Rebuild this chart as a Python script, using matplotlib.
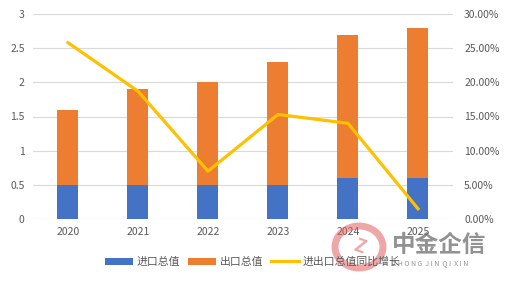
import numpy as np
import matplotlib.pyplot as plt
from matplotlib.patches import Ellipse

plt.rcParams['font.family'] = ['Noto Sans CJK SC', 'DejaVu Sans']

years = ['2020', '2021', '2022', '2023', '2024', '2025']
imports = [0.5, 0.5, 0.5, 0.5, 0.6, 0.6]
exports = [1.1, 1.4, 1.5, 1.8, 2.1, 2.2]
growth = [25.8, 18.7, 7.0, 15.3, 14.0, 1.5]

grey = '#595959'
fig = plt.figure(figsize=(5.06, 2.83), dpi=100)
ax = fig.add_axes([33/506, 64/283, 420/506, 205/283])
x = np.arange(len(years))
b1 = ax.bar(x, imports, width=0.3, color='#4472C4', label='进口总值', zorder=2)
b2 = ax.bar(x, exports, width=0.3, bottom=imports, color='#ED7D31', label='出口总值', zorder=2)
ax.set_ylim(0, 3)
ax.set_xlim(-0.5, 5.5)
ax.set_yticks(np.arange(0, 3.01, 0.5))
ax.set_yticklabels(['0', '0.5', '1', '1.5', '2', '2.5', '3'])
ax.set_xticks(x)
ax.set_xticklabels(years)
ax.grid(axis='y', color='#D9D9D9', linewidth=0.8, zorder=0)
ax.set_axisbelow(True)
for s in ax.spines.values():
    s.set_visible(False)
ax.tick_params(length=0, labelsize=7.5, colors=grey, pad=6)

ax2 = ax.twinx()
l1, = ax2.plot(x, growth, color='#FFC000', linewidth=2.3, label='进出口总值同比增长', zorder=3)
ax2.set_ylim(0, 30)
ax2.set_yticks(np.arange(0, 30.1, 5))
ax2.set_yticklabels(['%.2f%%' % v for v in np.arange(0, 30.1, 5)])
for s in ax2.spines.values():
    s.set_visible(False)
ax2.tick_params(length=0, labelsize=7.5, colors=grey, pad=8)

fig.legend(handles=[b1, b2, l1], loc='center', bbox_to_anchor=(0.5, (283-262)/283),
           ncol=3, frameon=False, fontsize=7.8, labelcolor=grey,
           handlelength=2.6, handleheight=0.7, columnspacing=0.7, handletextpad=0.35)

# 水印
fig.patches.append(Ellipse((359/506, 1-247/283), 48/506, 42/283, transform=fig.transFigure,
                           facecolor='none', edgecolor='#E06060', linewidth=5, alpha=0.55))
fig.text(359/506, 1-247/283, 'Z', fontsize=13, color='#E06060', alpha=0.55, weight='bold',
         ha='center', va='center', rotation=-20)
fig.text(392/506, 1-245/283, '中金企信', fontsize=17, color='#6E6E6E', alpha=0.75, weight='bold', va='center')
fig.text(392/506, 1-263/283, 'Z H O N G  J I N  Q I  X I N', fontsize=5, color='#6E6E6E', alpha=0.75, va='center')

plt.savefig('out.png', dpi=100)
